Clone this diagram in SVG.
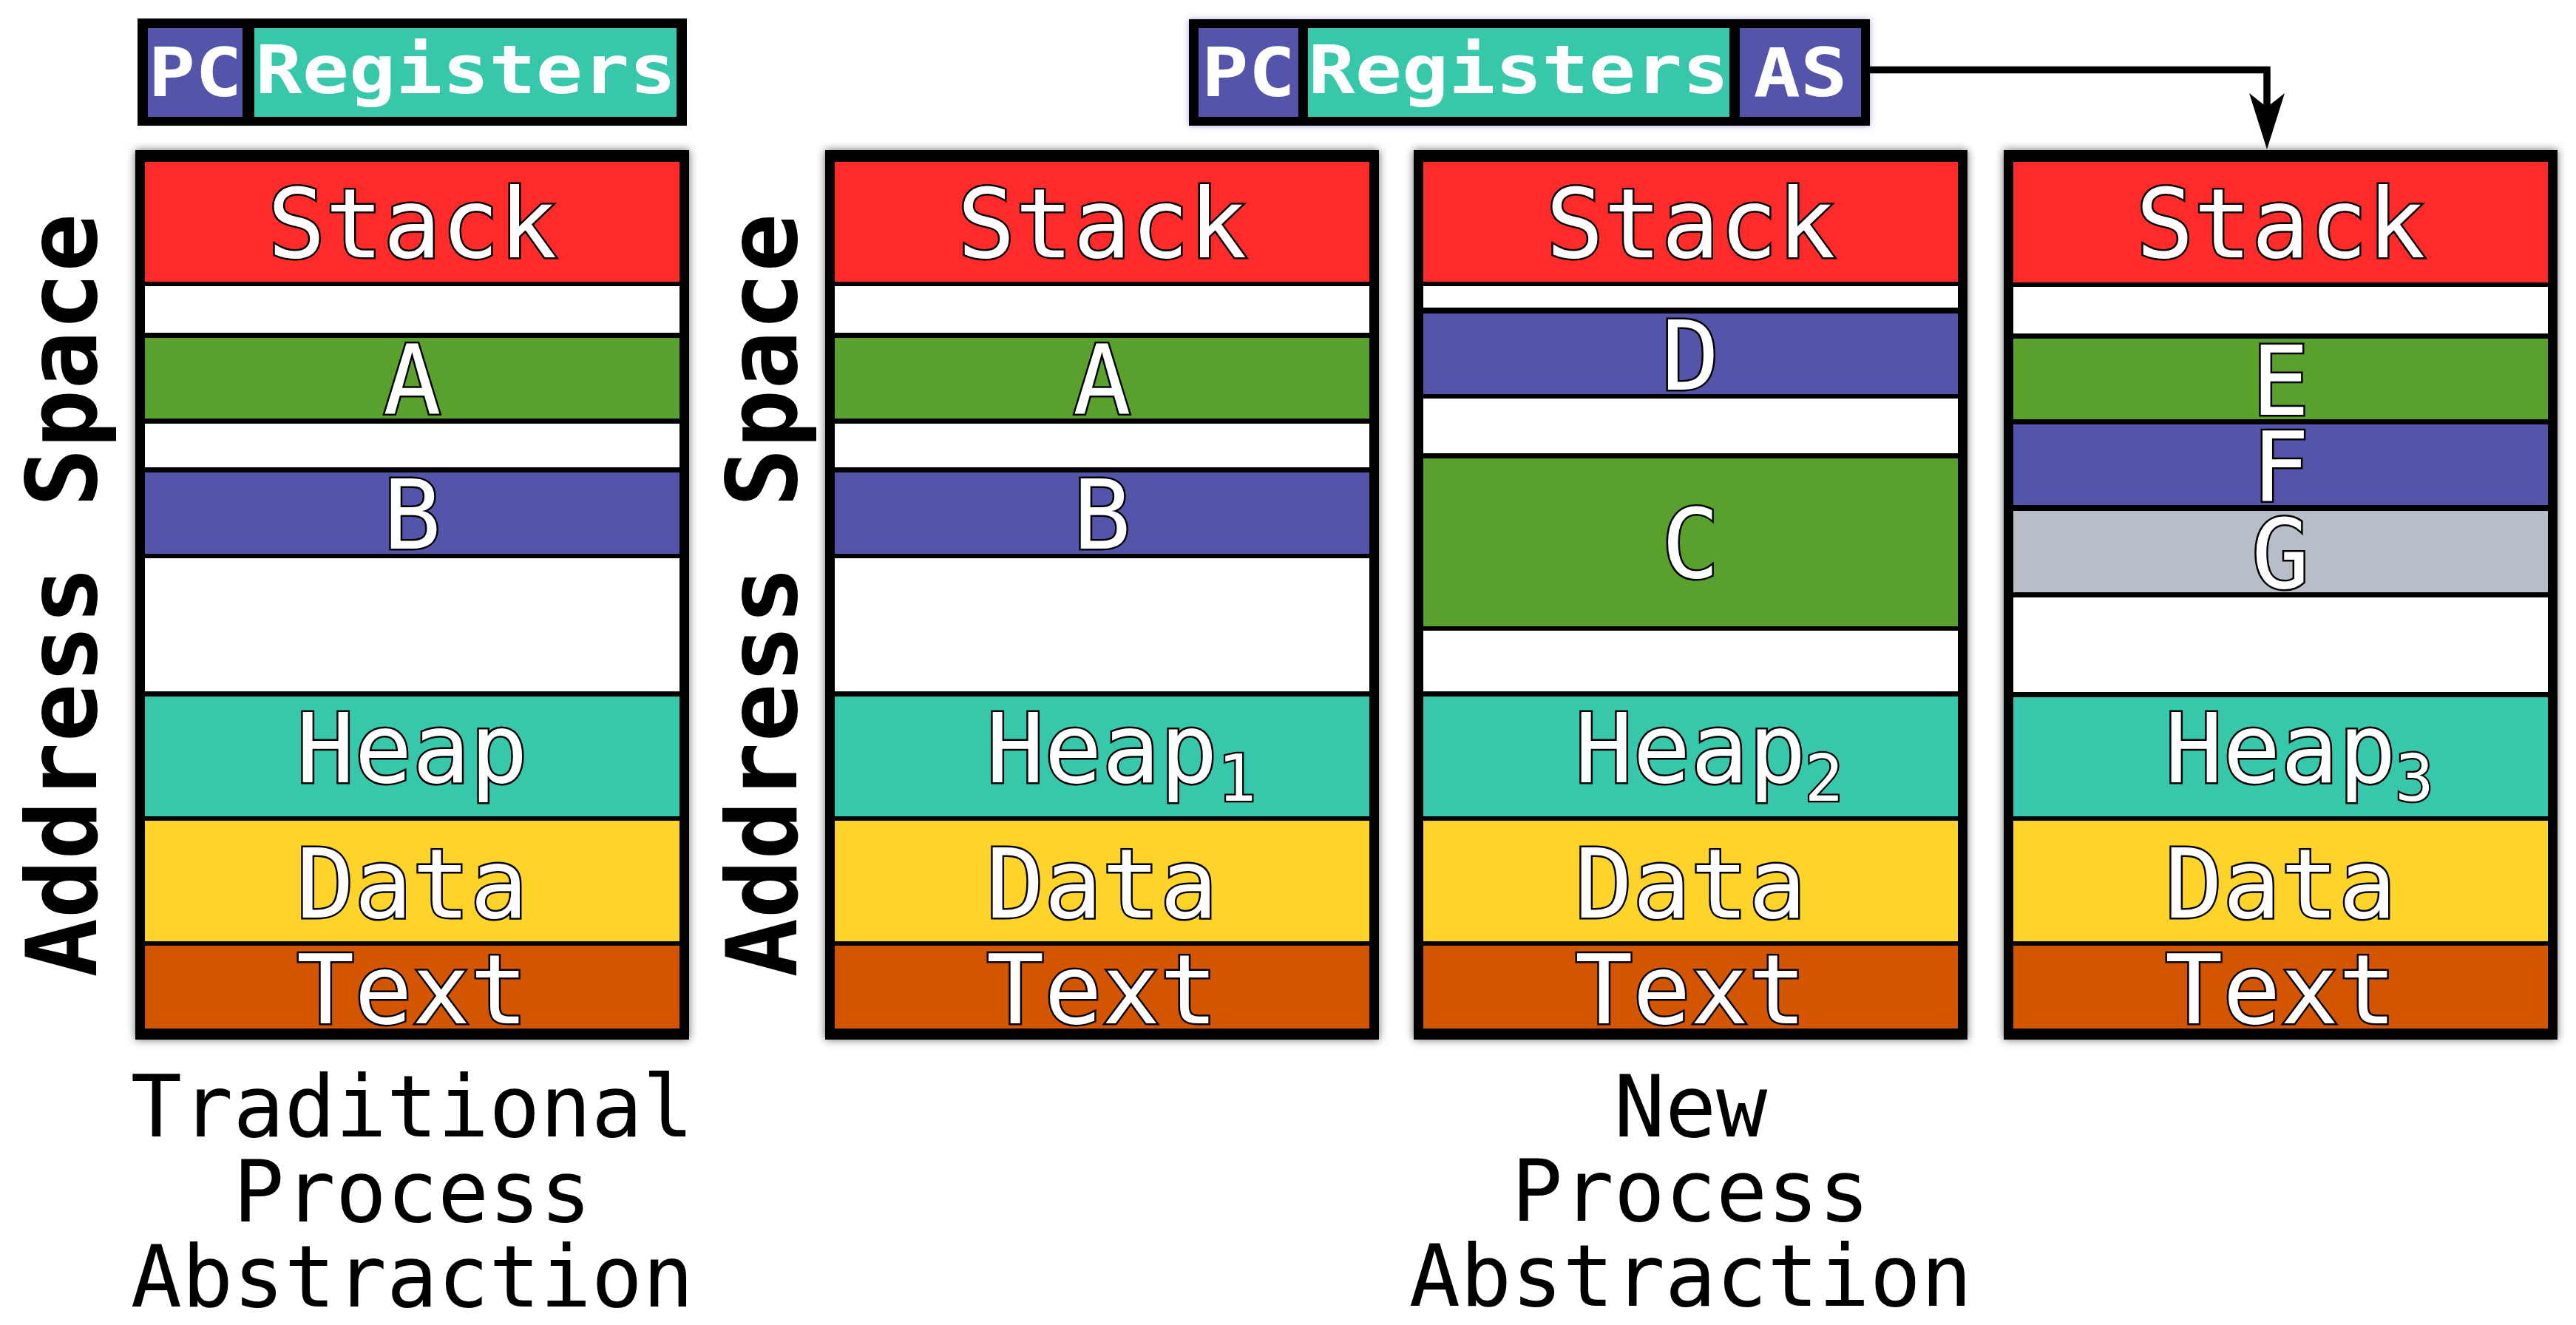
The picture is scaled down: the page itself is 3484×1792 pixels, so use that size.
<svg xmlns="http://www.w3.org/2000/svg" width="3484" height="1792" viewBox="0 0 3484 1792">
<style>
.frame{fill:#000;filter:url(#sh)}
.red{fill:#ff2a2a}.wht{fill:#fff}.grn{fill:#5aa02c}.blu{fill:#5454aa}.tea{fill:#37c8ab}.yel{fill:#ffd42a}.ora{fill:#d45500}.gry{fill:#b7bec8}
.lbl{font-family:"DejaVu Sans Mono","Liberation Mono",monospace;font-size:130px;fill:#fff;stroke:#000;stroke-width:5;paint-order:stroke;stroke-linejoin:miter;text-anchor:middle}
.sub{font-family:"DejaVu Sans Mono","Liberation Mono",monospace;font-size:87px;fill:#fff;stroke:#000;stroke-width:4.5;paint-order:stroke;text-anchor:middle}
.side{font-family:"DejaVu Sans Mono","Liberation Mono",monospace;font-size:132px;font-weight:bold;fill:#000;text-anchor:middle}
.cap{font-family:"DejaVu Sans Mono","Liberation Mono",monospace;font-size:115px;fill:#000;text-anchor:middle}
.reg{font-family:"DejaVu Sans Mono","Liberation Mono",monospace;font-size:91px;font-weight:bold;fill:#fff;text-anchor:middle}
.conn{fill:none;stroke:#000;stroke-width:9.5}
</style>
<defs>
<filter id="sh" x="-10%" y="-10%" width="120%" height="120%"><feDropShadow dx="0" dy="0" stdDeviation="6" flood-color="#000" flood-opacity="0.6"/></filter>
<filter id="glow" x="-10%" y="-30%" width="120%" height="160%"><feDropShadow dx="0" dy="0" stdDeviation="4" flood-color="#5555cc" flood-opacity="0.5"/></filter>
<marker id="arr" markerUnits="userSpaceOnUse" viewBox="0 0 76 48" refX="21" refY="24" markerWidth="76" markerHeight="48" orient="auto"><path d="M0,0 L76,24 L0,48 L19,24 Z" fill="#000"/></marker>
</defs>
<rect width="3484" height="1792" fill="#fff"/>

<g id="regs1">
<rect x="186" y="25" width="743" height="145" fill="#000"/>
<rect x="200" y="38" width="128" height="120" class="blu"/>
<rect x="344" y="38" width="571" height="120" class="tea"/>
<text class="reg" x="264" y="130" textLength="127" lengthAdjust="spacingAndGlyphs">PC</text>
<text class="reg" x="630" y="125.5" textLength="569" lengthAdjust="spacingAndGlyphs">Registers</text>
</g>

<g id="regs2">
<rect x="1608" y="26" width="921" height="144" fill="#000" filter="url(#glow)"/>
<rect x="1621" y="38" width="135" height="120" class="blu"/>
<rect x="1769" y="38" width="570" height="120" class="tea"/>
<rect x="2353" y="38" width="164" height="120" class="blu"/>
<text class="reg" x="1688.5" y="130" textLength="127" lengthAdjust="spacingAndGlyphs">PC</text>
<text class="reg" x="2054" y="125.5" textLength="569" lengthAdjust="spacingAndGlyphs">Registers</text>
<text class="reg" x="2435" y="130" textLength="127" lengthAdjust="spacingAndGlyphs">AS</text>
</g>

<g id="label-as1"><text class="side" transform="translate(130,805) rotate(-90)">Address Space</text></g>
<g id="label-as2"><text class="side" transform="translate(1077,805) rotate(-90)">Address Space</text></g>

<g id="col1">
<rect class="frame" x="183" y="203" width="749" height="1203"/>
<rect class="red" x="196" y="219" width="723" height="162"/>
<rect class="wht" x="196" y="387" width="723" height="63"/>
<rect class="grn" x="196" y="457" width="723" height="109"/>
<rect class="wht" x="196" y="573" width="723" height="59"/>
<rect class="blu" x="196" y="639" width="723" height="110"/>
<rect class="wht" x="196" y="755" width="723" height="180"/>
<rect class="tea" x="196" y="942" width="723" height="162"/>
<rect class="yel" x="196" y="1110" width="723" height="163"/>
<rect class="ora" x="196" y="1279" width="723" height="112"/>
<text class="lbl" x="557.5" y="348">Stack</text>
<text class="lbl" x="557.5" y="559.5">A</text>
<text class="lbl" x="557.5" y="742">B</text>
<text class="lbl" x="557.5" y="1057.5">Heap</text>
<text class="lbl" x="557.5" y="1241">Data</text>
<text class="lbl" x="557.5" y="1384">Text</text>
</g>

<g id="col2">
<rect class="frame" x="1116" y="203" width="749" height="1203"/>
<rect class="red" x="1129" y="219" width="723" height="162"/>
<rect class="wht" x="1129" y="387" width="723" height="63"/>
<rect class="grn" x="1129" y="457" width="723" height="109"/>
<rect class="wht" x="1129" y="573" width="723" height="59"/>
<rect class="blu" x="1129" y="639" width="723" height="110"/>
<rect class="wht" x="1129" y="755" width="723" height="180"/>
<rect class="tea" x="1129" y="942" width="723" height="162"/>
<rect class="yel" x="1129" y="1110" width="723" height="163"/>
<rect class="ora" x="1129" y="1279" width="723" height="112"/>
<text class="lbl" x="1490.5" y="348">Stack</text>
<text class="lbl" x="1490.5" y="559.5">A</text>
<text class="lbl" x="1490.5" y="742">B</text>
<text class="lbl" x="1490.5" y="1057.5">Heap</text>
<text class="sub" x="1673" y="1083">1</text>
<text class="lbl" x="1490.5" y="1241">Data</text>
<text class="lbl" x="1490.5" y="1384">Text</text>
</g>

<g id="col3">
<rect class="frame" x="1912" y="203" width="749" height="1203"/>
<rect class="red" x="1925" y="219" width="723" height="162"/>
<rect class="wht" x="1925" y="387" width="723" height="29"/>
<rect class="blu" x="1925" y="424" width="723" height="109"/>
<rect class="wht" x="1925" y="539" width="723" height="74"/>
<rect class="grn" x="1925" y="620" width="723" height="227"/>
<rect class="wht" x="1925" y="853" width="723" height="82"/>
<rect class="tea" x="1925" y="942" width="723" height="162"/>
<rect class="yel" x="1925" y="1110" width="723" height="163"/>
<rect class="ora" x="1925" y="1279" width="723" height="112"/>
<text class="lbl" x="2286.5" y="348">Stack</text>
<text class="lbl" x="2286.5" y="527">D</text>
<text class="lbl" x="2286.5" y="781">C</text>
<text class="lbl" x="2286.5" y="1057.5">Heap</text>
<text class="sub" x="2467" y="1083">2</text>
<text class="lbl" x="2286.5" y="1241">Data</text>
<text class="lbl" x="2286.5" y="1384">Text</text>
</g>

<g id="col4">
<rect class="frame" x="2710" y="203" width="749" height="1203"/>
<rect class="red" x="2723" y="219" width="723" height="163"/>
<rect class="wht" x="2723" y="388" width="723" height="63"/>
<rect class="grn" x="2723" y="458" width="723" height="109"/>
<rect class="blu" x="2723" y="574" width="723" height="109"/>
<rect class="gry" x="2723" y="691" width="723" height="110"/>
<rect class="wht" x="2723" y="808" width="723" height="128"/>
<rect class="tea" x="2723" y="943" width="723" height="161"/>
<rect class="yel" x="2723" y="1110" width="723" height="163"/>
<rect class="ora" x="2723" y="1279" width="723" height="112"/>
<text class="lbl" x="3084.5" y="348">Stack</text>
<text class="lbl" x="3084.5" y="561">E</text>
<text class="lbl" x="3084.5" y="677">F</text>
<text class="lbl" x="3084.5" y="795">G</text>
<text class="lbl" x="3084.5" y="1057.5">Heap</text>
<text class="sub" x="3265.5" y="1083">3</text>
<text class="lbl" x="3084.5" y="1241">Data</text>
<text class="lbl" x="3084.5" y="1384">Text</text>
</g>

<g id="caption-traditional">
<text class="cap" x="557.5" y="1537">Traditional</text>
<text class="cap" x="557.5" y="1652">Process</text>
<text class="cap" x="557.5" y="1767">Abstraction</text>
</g>
<g id="caption-new">
<text class="cap" x="2286.5" y="1537">New</text>
<text class="cap" x="2286.5" y="1651">Process</text>
<text class="cap" x="2286.5" y="1766">Abstraction</text>
</g>

<g id="connectors">
<path class="conn" d="M2529,94.5 H3066 V147" marker-end="url(#arr)"/>
</g>
</svg>
